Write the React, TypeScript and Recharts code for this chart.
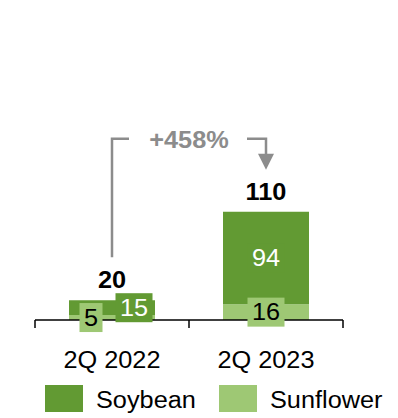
import { BarChart, Bar, XAxis, YAxis, LabelList, Legend, ReferenceLine } from "recharts"

// Crush volumes, by quarter
const quarters = ["2Q 2022", "2Q 2023"]
const soybean = [15, 94]
const sunflower = [5, 16]
const changeLabel = "+458%"

const SOY = "#629a33"
const SUN = "#9ec874"
const GRAY = "#8c8c8c"
const FONT = "'Liberation Sans', Arial, sans-serif"
const STRETCH = 1.1

// horizontal nudge for the small 2022 labels so they don't overlap
const labelShift: Record<string, number[]> = {
    sunflower: [-21, 0],
    soybean: [22, 0],
}

const legendItems = [
    { name: "Soybean", color: SOY },
    { name: "Sunflower", color: SUN },
]

const data = quarters.map((quarter, i) => ({
    quarter,
    soybean: soybean[i],
    sunflower: sunflower[i],
    total: soybean[i] + sunflower[i],
}))

function WideText({ x, y, children, size = 23, bold = false, fill = "#000" }: any) {
    return (
        <text
            transform={`translate(${x},${y}) scale(${STRETCH},1)`}
            textAnchor="middle"
            fontSize={size}
            fontWeight={bold ? 700 : 400}
            fontFamily={FONT}
            fill={fill}
        >
            {children}
        </text>
    )
}

function segmentLabel(key: string, boxFill: string, textFill: string) {
    return (props: any) => {
        const { x, y, width, height, value, index } = props
        const cx = x + width / 2 + (labelShift[key][index] ?? 0)
        const cy = y + height / 2
        const w = String(value).length * 14 + 9
        return (
            <g>
                <rect x={cx - w / 2} y={cy - 14.5} width={w} height={29} fill={boxFill} />
                <WideText x={cx} y={cy + 8} fill={textFill}>{value}</WideText>
            </g>
        )
    }
}

function totalLabel(props: any) {
    const { x, y, width, value } = props
    return <WideText x={x + width / 2} y={y - 12} bold>{value}</WideText>
}

function ChangeBracket(props: any) {
    const { x1, y1, x2, y2 } = props
    const top = Math.min(y1, y2) - 73
    const legBottom = y1 - 43
    const tipY = y2 - 42
    const mid = (x1 + x2) / 2
    return (
        <g>
            <polyline
                points={`${x1},${legBottom} ${x1},${top} ${x1 + 17},${top}`}
                fill="none"
                stroke={GRAY}
                strokeWidth={2.5}
            />
            <polyline
                points={`${x2 - 19},${top} ${x2},${top} ${x2},${tipY - 15}`}
                fill="none"
                stroke={GRAY}
                strokeWidth={2.5}
            />
            <polygon points={`${x2 - 8},${tipY - 16} ${x2 + 8},${tipY - 16} ${x2},${tipY}`} fill={GRAY} />
            <WideText x={mid} y={top + 9} bold fill={GRAY}>{changeLabel}</WideText>
        </g>
    )
}

function QuarterTick(props: any) {
    const { x, y, payload, index } = props
    const half = payload?.offset ?? 77
    const last = index === quarters.length - 1
    return (
        <g>
            <line x1={x - half} y1={y - 8} x2={x - half} y2={y} stroke="#000" strokeWidth={1.5} />
            {last && <line x1={x + half} y1={y - 8} x2={x + half} y2={y} stroke="#000" strokeWidth={1.5} />}
            <WideText x={x} y={y + 40}>{payload.value}</WideText>
        </g>
    )
}

function LegendBox() {
    return (
        <div style={{ display: "flex", fontFamily: FONT, fontSize: 23, color: "#000" }}>
            {legendItems.map((item) => (
                <div key={item.name} style={{ display: "flex", alignItems: "center", width: 174 }}>
                    <span style={{ width: 38, height: 27, background: item.color, marginRight: 13, flexShrink: 0 }} />
                    <span
                        style={{
                            display: "inline-block",
                            lineHeight: "27px",
                            position: "relative",
                            top: 2,
                            transform: `scaleX(${STRETCH})`,
                            transformOrigin: "left center",
                            whiteSpace: "nowrap",
                        }}
                    >
                        {item.name}
                    </span>
                </div>
            ))}
        </div>
    )
}

export default function App() {
    return (
        <div style={{ position: "absolute", left: 0, top: 0, width: 398, height: 418, background: "#fff" }}>
            <BarChart
                width={398}
                height={418}
                data={data}
                margin={{ top: 25, right: 55, bottom: 68, left: 35 }}
                barSize={86}
            >
                <XAxis
                    dataKey="quarter"
                    height={30}
                    axisLine={{ stroke: "#000", strokeWidth: 1.5 }}
                    tickLine={false}
                    tickSize={8}
                    tickMargin={0}
                    tick={<QuarterTick />}
                    interval={0}
                />
                <YAxis hide domain={[0, 300]} />
                <Bar dataKey="sunflower" stackId="a" fill={SUN} isAnimationActive={false}>
                    <LabelList dataKey="sunflower" content={segmentLabel("sunflower", SUN, "#000")} />
                </Bar>
                <Bar dataKey="soybean" stackId="a" fill={SOY} isAnimationActive={false}>
                    <LabelList dataKey="soybean" content={segmentLabel("soybean", SOY, "#fff")} />
                    <LabelList dataKey="total" content={totalLabel} />
                </Bar>
                <ReferenceLine
                    segment={[
                        { x: quarters[0], y: data[0].total },
                        { x: quarters[1], y: data[1].total },
                    ]}
                    ifOverflow="visible"
                    shape={ChangeBracket}
                />
                <Legend
                    layout="horizontal"
                    align="center"
                    verticalAlign="middle"
                    wrapperStyle={{ top: 385, left: 45, width: 360 }}
                    content={() => <LegendBox />}
                />
            </BarChart>
        </div>
    )
}
